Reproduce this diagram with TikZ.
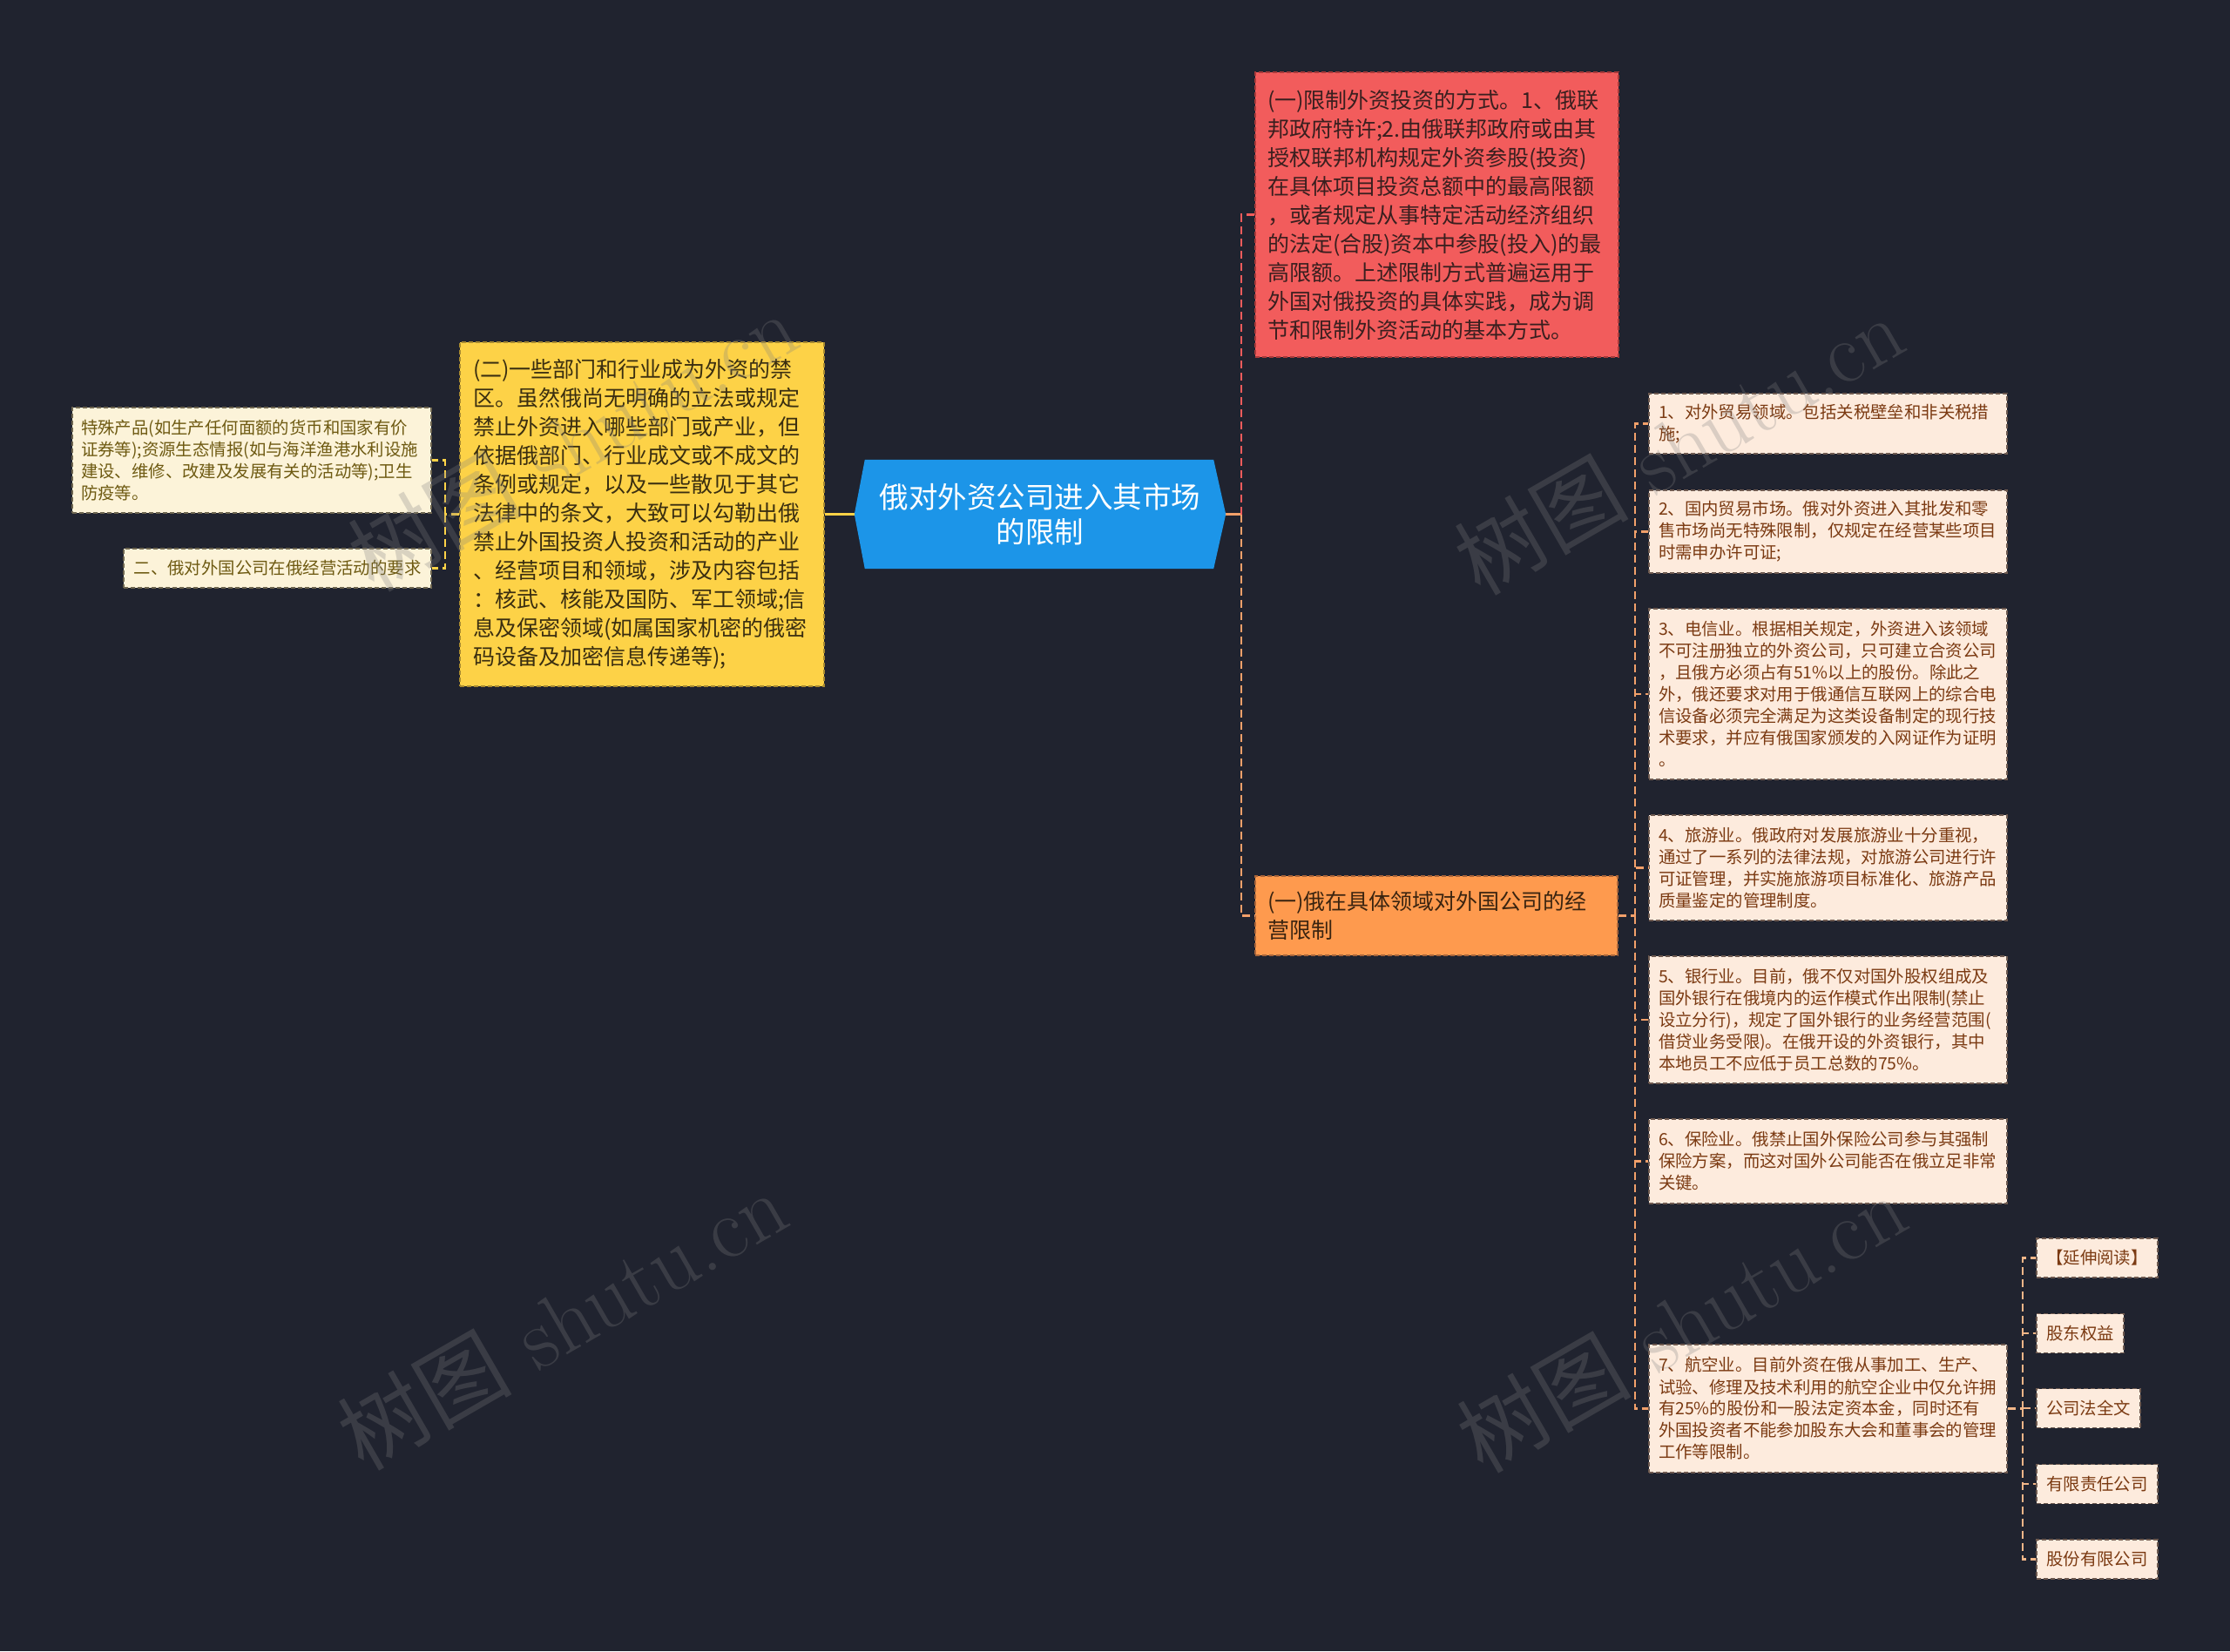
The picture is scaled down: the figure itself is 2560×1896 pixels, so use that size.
\documentclass[tikz,border=0pt]{standalone}
\usepackage{fontspec}
\newfontfamily\cjk{Noto Sans CJK SC}
\definecolor{cBg}{HTML}{20232F}
\definecolor{cBlue}{HTML}{1C95E8}
\definecolor{cRed}{HTML}{F25C5C}
\definecolor{cRedD}{HTML}{A83A3A}
\definecolor{cRedT}{HTML}{3A1F1F}
\definecolor{cYel}{HTML}{FDD247}
\definecolor{cYelD}{HTML}{A88A30}
\definecolor{cYelT}{HTML}{3A2E10}
\definecolor{cOrg}{HTML}{FE9A4E}
\definecolor{cOrgD}{HTML}{A8643A}
\definecolor{cOrgT}{HTML}{3A2410}
\definecolor{cCream}{HTML}{FCF3D9}
\definecolor{cCreamD}{HTML}{6E6650}
\definecolor{cCreamT}{HTML}{6E5A12}
\definecolor{cPeach}{HTML}{FDEBDD}
\definecolor{cPeachD}{HTML}{6E5A50}
\definecolor{cPeachT}{HTML}{7B3A12}
\definecolor{cLineO}{HTML}{F2A06A}
\definecolor{cLineP}{HTML}{F2B688}
\tikzset{
  box/.style={rectangle, inner sep=0pt, line width=1.5pt, dash pattern=on 5pt off 3pt, align=left},
  bigfont/.style={font=\cjk\fontsize{25}{33}\selectfont},
  smallfont/.style={font=\cjk\fontsize{19.4}{25}\selectfont},
  redbox/.style={box, bigfont, fill=cRed, draw=cRedD, text=cRedT},
  yelbox/.style={box, bigfont, fill=cYel, draw=cYelD, text=cYelT},
  orgbox/.style={box, bigfont, fill=cOrg, draw=cOrgD, text=cOrgT},
  creambox/.style={box, smallfont, fill=cCream, draw=cCreamD, text=cCreamT},
  itembox/.style={box, smallfont, fill=cPeach, draw=cPeachD, text=cPeachT, minimum width=411pt, text width=389pt},
  tagbox/.style={box, smallfont, fill=cPeach, draw=cPeachD, text=cPeachT, minimum height=45pt, align=center},
  conn/.style={line width=2.2pt},
  dconn/.style={conn, dash pattern=on 9pt off 5pt},
  wmark/.style={rotate=30, text=gray, opacity=0.28, font=\fontsize{100}{100}\selectfont}
}
\begin{document}
\begin{tikzpicture}[x=1pt,y=-1pt]
\fill[cBg] (0,0) rectangle (2560,1896);
\useasboundingbox (0,0) rectangle (2560,1896);

% central node
\node[minimum width=426pt, minimum height=125pt, inner sep=0pt] (c) at (1194,590.5) {};
\fill[cBlue] (c.west) -- ([xshift=12pt]c.north west) -- ([xshift=-14pt]c.north east) -- (c.east) -- ([xshift=-14pt]c.south east) -- ([xshift=12pt]c.south west) -- cycle;
\node[font=\cjk\fontsize{33.5}{40}\selectfont, text=white, align=center] (ct) at (c.center) {俄对外资公司进入其市场\\的限制};

% left branch
\node[yelbox, minimum width=418pt, minimum height=395pt, text width=388pt] (y) at (737,590.5) {(二)一些部门和行业成为外资的禁\\区。虽然俄尚无明确的立法或规定\\禁止外资进入哪些部门或产业，但\\依据俄部门、行业成文或不成文的\\条例或规定，以及一些散见于其它\\法律中的条文，大致可以勾勒出俄\\禁止外国投资人投资和活动的产业\\、经营项目和领域，涉及内容包括\\：核武、核能及国防、军工领域;信\\息及保密领域(如属国家机密的俄密\\码设备及加密信息传递等);};

\node[creambox, minimum width=412pt, minimum height=121pt, text width=392pt] (l1) at (289,528.5) {特殊产品(如生产任何面额的货币和国家有价\\证券等);资源生态情报(如与海洋渔港水利设施\\建设、维修、改建及发展有关的活动等);卫生\\防疫等。};
\node[creambox, minimum width=353pt, minimum height=45pt, align=center] (l2) at (318.5,652.5) {二、俄对外国公司在俄经营活动的要求};

% right branch
\node[redbox, minimum width=417pt, minimum height=327pt, text width=389pt] (r) at (1649.5,246.5) {(一)限制外资投资的方式。1、俄联\\邦政府特许;2.由俄联邦政府或由其\\授权联邦机构规定外资参股(投资)\\在具体项目投资总额中的最高限额\\，或者规定从事特定活动经济组织\\的法定(合股)资本中参股(投入)的最\\高限额。上述限制方式普遍运用于\\外国对俄投资的具体实践，成为调\\节和限制外资活动的基本方式。};

\node[orgbox, minimum width=416pt, minimum height=91pt, text width=388pt] (o) at (1649,1051.5) {(一)俄在具体领域对外国公司的经\\营限制};

\node[itembox, minimum height=69pt] (i1) at (2098.5,486.5) {1、对外贸易领域。包括关税壁垒和非关税措\\施;};
\node[itembox, minimum height=95pt] (i2) at (2098.5,610.5) {2、国内贸易市场。俄对外资进入其批发和零\\售市场尚无特殊限制，仅规定在经营某些项目\\时需申办许可证;};
\node[itembox, minimum height=196pt] (i3) at (2098.5,797) {3、电信业。根据相关规定，外资进入该领域\\不可注册独立的外资公司，只可建立合资公司\\，且俄方必须占有51\%以上的股份。除此之\\外，俄还要求对用于俄通信互联网上的综合电\\信设备必须完全满足为这类设备制定的现行技\\术要求，并应有俄国家颁发的入网证作为证明\\。};
\node[itembox, minimum height=121pt] (i4) at (2098.5,996.5) {4、旅游业。俄政府对发展旅游业十分重视，\\通过了一系列的法律法规，对旅游公司进行许\\可证管理，并实施旅游项目标准化、旅游产品\\质量鉴定的管理制度。};
\node[itembox, minimum height=146pt] (i5) at (2098.5,1171) {5、银行业。目前，俄不仅对国外股权组成及\\国外银行在俄境内的运作模式作出限制(禁止\\设立分行)，规定了国外银行的业务经营范围(\\借贷业务受限)。在俄开设的外资银行，其中\\本地员工不应低于员工总数的75\%。};
\node[itembox, minimum height=97pt] (i6) at (2098.5,1333.5) {6、保险业。俄禁止国外保险公司参与其强制\\保险方案，而这对国外公司能否在俄立足非常\\关键。};
\node[itembox, minimum height=147pt] (i7) at (2098.5,1617.5) {7、航空业。目前外资在俄从事加工、生产、\\试验、修理及技术利用的航空企业中仅允许拥\\有25\%的股份和一股法定资本金，同时还有\\外国投资者不能参加股东大会和董事会的管理\\工作等限制。};

\node[tagbox, minimum width=139pt] (s1) at (2407.5,1444.5) {【延伸阅读】};
\node[tagbox, minimum width=100pt] (s2) at (2388,1531) {股东权益};
\node[tagbox, minimum width=119pt] (s3) at (2397.5,1617) {公司法全文};
\node[tagbox, minimum width=139pt] (s4) at (2407.5,1704) {有限责任公司};
\node[tagbox, minimum width=139pt] (s5) at (2407.5,1790.5) {股份有限公司};

% connectors
\draw[conn, cYel] (c.west) -- (y.east);
\coordinate (jL) at (511,590.5);
\draw[dconn, cYel] (y.west) -- (jL);
\draw[dconn, cYel] (jL) |- (l1.east);
\draw[dconn, cYel] (jL) |- (l2.east);

\coordinate (jR) at (1425,590.5);
\draw[conn, cLineO] (c.east) -- (jR);
\draw[dconn, cRed] (jR) |- (r.west);
\draw[dconn, cLineO] (jR) |- (o.west);

\coordinate (jI) at (1877,1051.5);
\draw[dconn, cLineO] (o.east) -- (jI);
\foreach \n in {i1,i2,i3,i4,i5,i6,i7} \draw[dconn, cLineO] (jI) |- (\n.west);

\coordinate (jS) at (2322,1617.5);
\draw[dconn, cLineP] (i7.east) -- (jS);
\foreach \n in {s1,s2,s3,s4,s5} \draw[dconn, cLineP] (jS) |- (\n.west);

% watermarks
\node[wmark] (w1) at (657,506) {{\cjk 树图} shutu.cn};
\node[wmark] (w2) at (645,1515) {{\cjk 树图} shutu.cn};
\node[wmark] (w3) at (1927,510) {{\cjk 树图} shutu.cn};
\node[wmark] (w4) at (1930,1518) {{\cjk 树图} shutu.cn};
\end{tikzpicture}
\end{document}
